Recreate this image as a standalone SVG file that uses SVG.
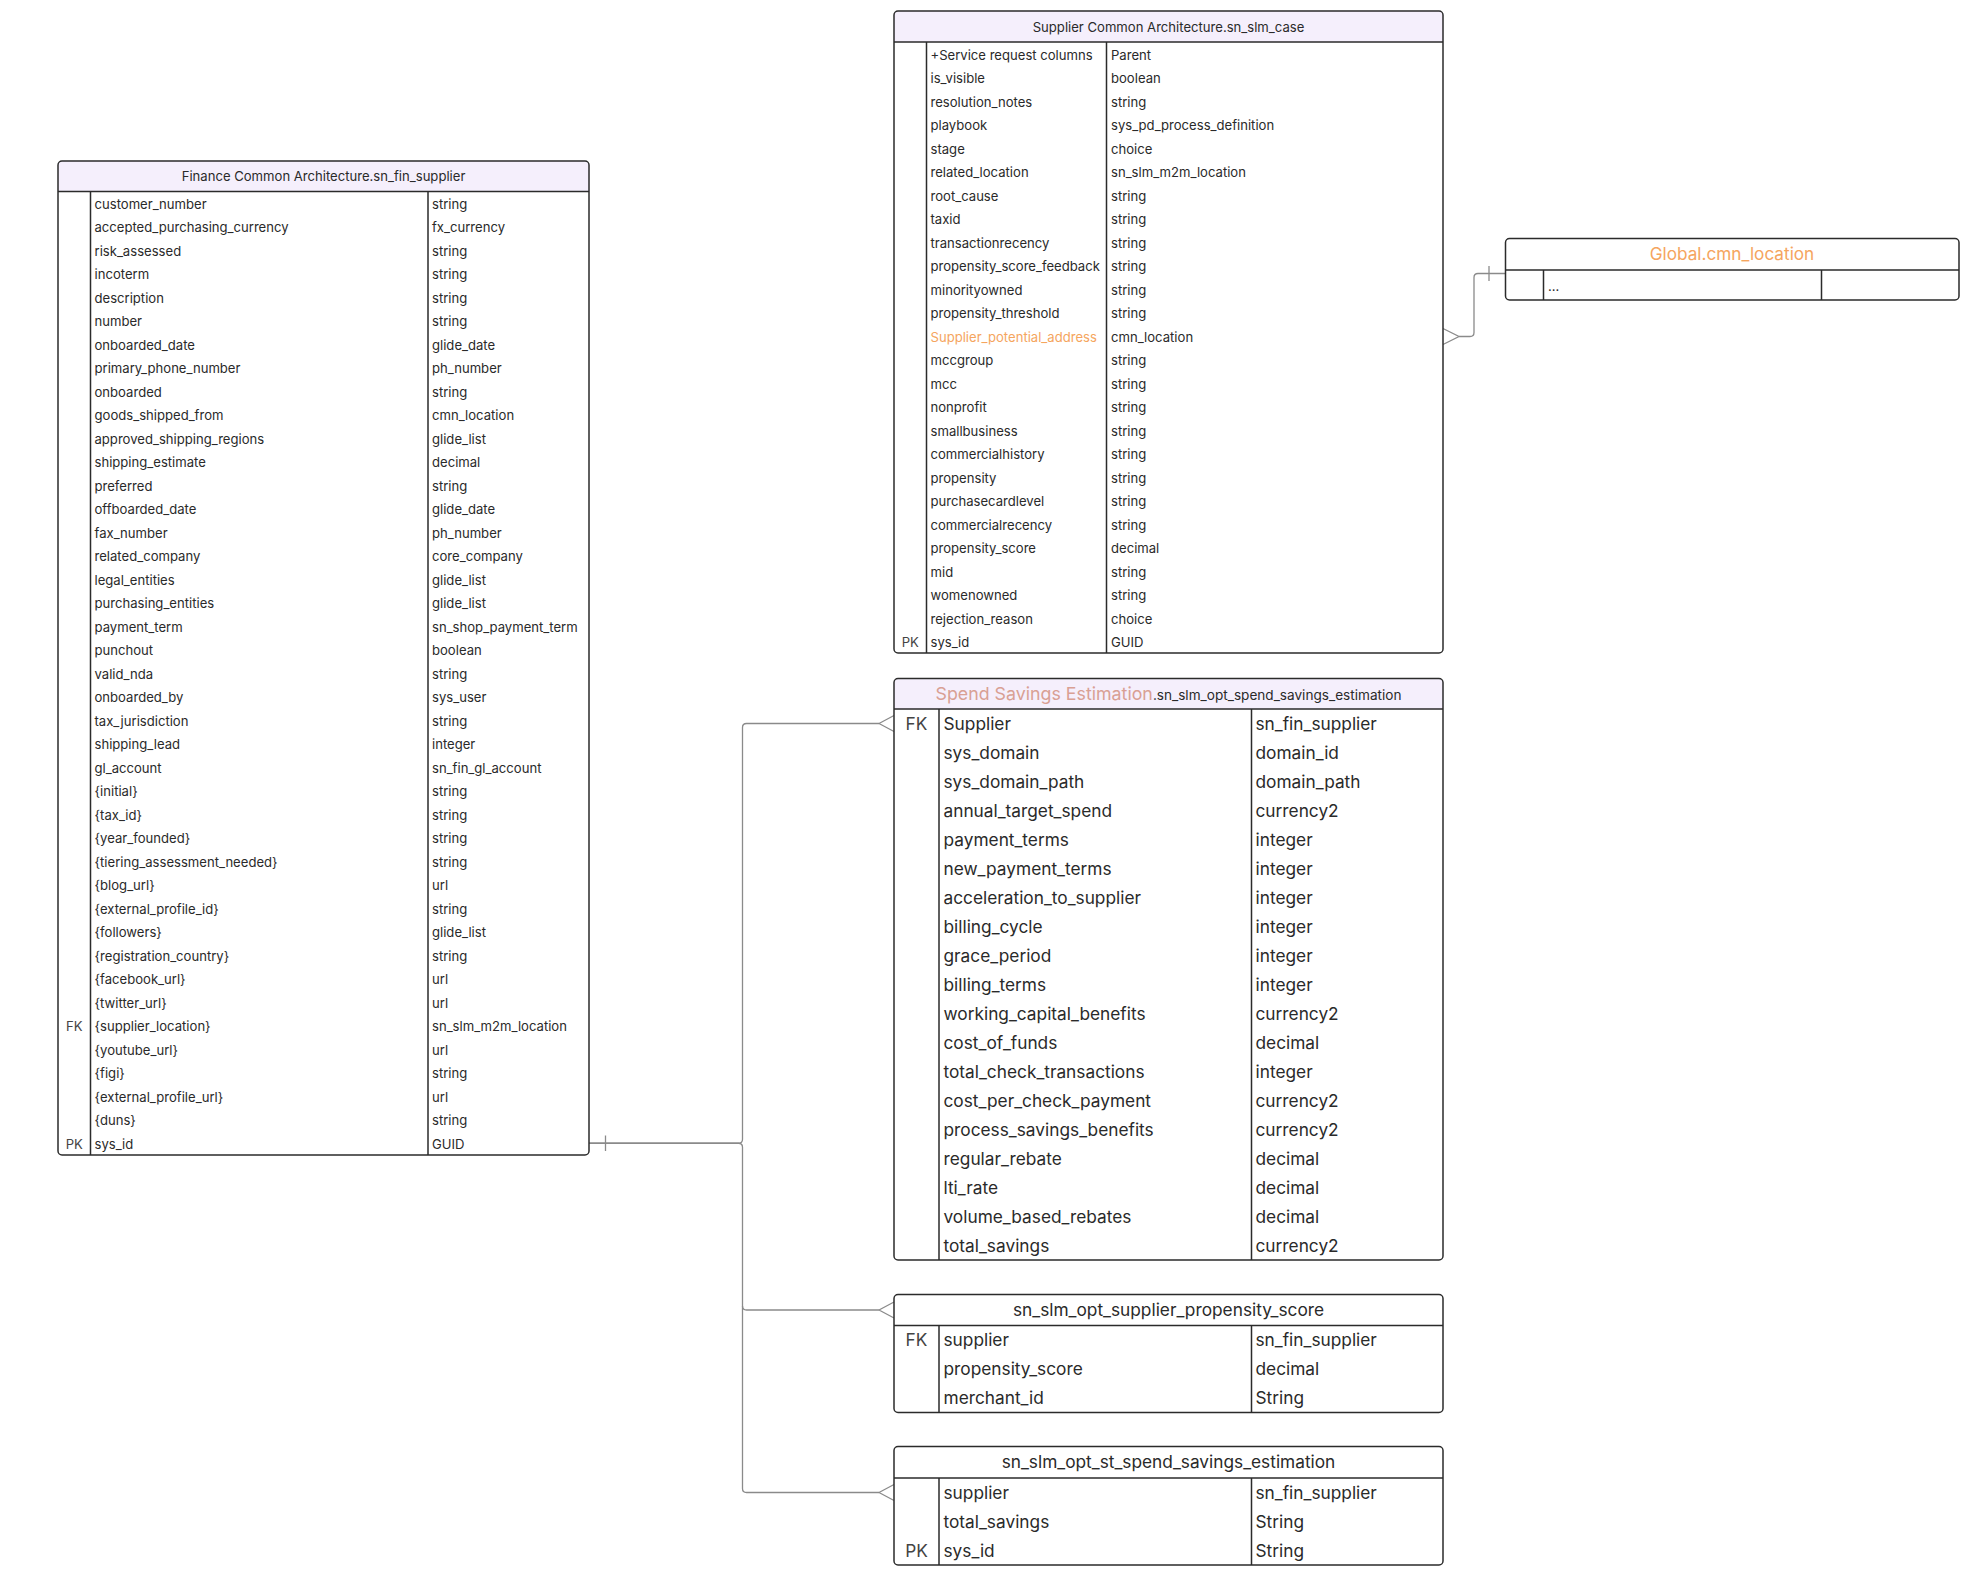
<svg xmlns="http://www.w3.org/2000/svg" width="1974" height="1572" viewBox="0 0 1974 1572">
<style>
  .box{fill:none;stroke:#2b2b2b;stroke-width:1.5}
  .bg{fill:#ffffff}
  .hd{fill:#f5effc}
  .ln{stroke:#2b2b2b;stroke-width:1.5;fill:none}
  .cn{stroke:#8a8a8a;stroke-width:1.3;fill:none}
  text{font-family:Inter,"Noto Sans","Liberation Sans",sans-serif;fill:#2a2a2a}
  .s13{font-size:13.1px}
  .s16{font-size:17.3px}
  .h13{font-size:13.1px;text-anchor:middle}
  .h16{font-size:17.3px;text-anchor:middle}
  .k13{font-size:13.1px;text-anchor:middle;fill:#444444}
  .k16{font-size:17.3px;text-anchor:middle;fill:#444444}
  .org{fill:#f5a55e}
  .pink{fill:#d9a094}
</style>
<rect x="0" y="0" width="1974" height="1572" fill="#ffffff"/>

<g id="connectors">
  <path class="cn" d="M589,1143.25 H738.5 Q742.5,1143.25 742.5,1139.25 V727.5 Q742.5,723.5 746.5,723.5 H879"/>
  <path class="cn" d="M879,723.5 L894,715.5 M879,723.5 L894,731.5"/>
  <path class="cn" d="M589,1143.25 H738.5 Q742.5,1143.25 742.5,1147.25 V1306 Q742.5,1310 746.5,1310 H879"/>
  <path class="cn" d="M879,1310 L894,1302 M879,1310 L894,1318"/>
  <path class="cn" d="M742.5,1306 V1488.5 Q742.5,1492.5 746.5,1492.5 H879"/>
  <path class="cn" d="M879,1492.5 L894,1484.5 M879,1492.5 L894,1500.5"/>
  <path class="cn" d="M605.5,1135.5 V1151"/>
  <path class="cn" d="M1443,328.5 L1459,336.5 L1443,344.5 M1459,336.5 H1470 Q1474,336.5 1474,332.5 V277.5 Q1474,273.5 1478,273.5 H1505.5"/>
  <path class="cn" d="M1489,266 V281"/>
</g>

<g id="sn_fin_supplier">
  <rect class="bg" x="58" y="161" width="531" height="994" rx="4"/>
  <path class="hd" d="M58,191.5 V165 Q58,161 62,161 H585 Q589,161 589,165 V191.5 Z"/>
  <rect class="box" x="58" y="161" width="531" height="994" rx="4"/>
  <path class="ln" d="M58,191.5 H589 M90.5,191.5 V1155 M428,191.5 V1155"/>
  <text class="h13" x="323.5" y="181">Finance Common Architecture.sn_fin_supplier</text>
  <text class="k13" x="74.3" y="1031.25">FK</text>
  <text class="k13" x="74.3" y="1148.75">PK</text>
  <text class="s13" x="94.5" y="208.75"><tspan x="94.5" dy="0">customer_number</tspan><tspan x="94.5" dy="23.5">accepted_purchasing_currency</tspan><tspan x="94.5" dy="23.5">risk_assessed</tspan><tspan x="94.5" dy="23.5">incoterm</tspan><tspan x="94.5" dy="23.5">description</tspan><tspan x="94.5" dy="23.5">number</tspan><tspan x="94.5" dy="23.5">onboarded_date</tspan><tspan x="94.5" dy="23.5">primary_phone_number</tspan><tspan x="94.5" dy="23.5">onboarded</tspan><tspan x="94.5" dy="23.5">goods_shipped_from</tspan><tspan x="94.5" dy="23.5">approved_shipping_regions</tspan><tspan x="94.5" dy="23.5">shipping_estimate</tspan><tspan x="94.5" dy="23.5">preferred</tspan><tspan x="94.5" dy="23.5">offboarded_date</tspan><tspan x="94.5" dy="23.5">fax_number</tspan><tspan x="94.5" dy="23.5">related_company</tspan><tspan x="94.5" dy="23.5">legal_entities</tspan><tspan x="94.5" dy="23.5">purchasing_entities</tspan><tspan x="94.5" dy="23.5">payment_term</tspan><tspan x="94.5" dy="23.5">punchout</tspan><tspan x="94.5" dy="23.5">valid_nda</tspan><tspan x="94.5" dy="23.5">onboarded_by</tspan><tspan x="94.5" dy="23.5">tax_jurisdiction</tspan><tspan x="94.5" dy="23.5">shipping_lead</tspan><tspan x="94.5" dy="23.5">gl_account</tspan><tspan x="94.5" dy="23.5">{initial}</tspan><tspan x="94.5" dy="23.5">{tax_id}</tspan><tspan x="94.5" dy="23.5">{year_founded}</tspan><tspan x="94.5" dy="23.5">{tiering_assessment_needed}</tspan><tspan x="94.5" dy="23.5">{blog_url}</tspan><tspan x="94.5" dy="23.5">{external_profile_id}</tspan><tspan x="94.5" dy="23.5">{followers}</tspan><tspan x="94.5" dy="23.5">{registration_country}</tspan><tspan x="94.5" dy="23.5">{facebook_url}</tspan><tspan x="94.5" dy="23.5">{twitter_url}</tspan><tspan x="94.5" dy="23.5">{supplier_location}</tspan><tspan x="94.5" dy="23.5">{youtube_url}</tspan><tspan x="94.5" dy="23.5">{figi}</tspan><tspan x="94.5" dy="23.5">{external_profile_url}</tspan><tspan x="94.5" dy="23.5">{duns}</tspan><tspan x="94.5" dy="23.5">sys_id</tspan></text>
  <text class="s13" x="432" y="208.75"><tspan x="432" dy="0">string</tspan><tspan x="432" dy="23.5">fx_currency</tspan><tspan x="432" dy="23.5">string</tspan><tspan x="432" dy="23.5">string</tspan><tspan x="432" dy="23.5">string</tspan><tspan x="432" dy="23.5">string</tspan><tspan x="432" dy="23.5">glide_date</tspan><tspan x="432" dy="23.5">ph_number</tspan><tspan x="432" dy="23.5">string</tspan><tspan x="432" dy="23.5">cmn_location</tspan><tspan x="432" dy="23.5">glide_list</tspan><tspan x="432" dy="23.5">decimal</tspan><tspan x="432" dy="23.5">string</tspan><tspan x="432" dy="23.5">glide_date</tspan><tspan x="432" dy="23.5">ph_number</tspan><tspan x="432" dy="23.5">core_company</tspan><tspan x="432" dy="23.5">glide_list</tspan><tspan x="432" dy="23.5">glide_list</tspan><tspan x="432" dy="23.5">sn_shop_payment_term</tspan><tspan x="432" dy="23.5">boolean</tspan><tspan x="432" dy="23.5">string</tspan><tspan x="432" dy="23.5">sys_user</tspan><tspan x="432" dy="23.5">string</tspan><tspan x="432" dy="23.5">integer</tspan><tspan x="432" dy="23.5">sn_fin_gl_account</tspan><tspan x="432" dy="23.5">string</tspan><tspan x="432" dy="23.5">string</tspan><tspan x="432" dy="23.5">string</tspan><tspan x="432" dy="23.5">string</tspan><tspan x="432" dy="23.5">url</tspan><tspan x="432" dy="23.5">string</tspan><tspan x="432" dy="23.5">glide_list</tspan><tspan x="432" dy="23.5">string</tspan><tspan x="432" dy="23.5">url</tspan><tspan x="432" dy="23.5">url</tspan><tspan x="432" dy="23.5">sn_slm_m2m_location</tspan><tspan x="432" dy="23.5">url</tspan><tspan x="432" dy="23.5">string</tspan><tspan x="432" dy="23.5">url</tspan><tspan x="432" dy="23.5">string</tspan><tspan x="432" dy="23.5">GUID</tspan></text>
</g>

<g id="sn_slm_case">
  <rect class="bg" x="894" y="11" width="549" height="642" rx="4"/>
  <path class="hd" d="M894,42 V15 Q894,11 898,11 H1439 Q1443,11 1443,15 V42 Z"/>
  <rect class="box" x="894" y="11" width="549" height="642" rx="4"/>
  <path class="ln" d="M894,42 H1443 M926.5,42 V653 M1106.5,42 V653"/>
  <text class="h13" x="1168.5" y="31.5">Supplier Common Architecture.sn_slm_case</text>
  <text class="k13" x="910.3" y="647">PK</text>
  <text class="s13" x="930.5" y="59.5"><tspan x="930.5" dy="0">+Service request columns</tspan><tspan x="930.5" dy="23.5">is_visible</tspan><tspan x="930.5" dy="23.5">resolution_notes</tspan><tspan x="930.5" dy="23.5">playbook</tspan><tspan x="930.5" dy="23.5">stage</tspan><tspan x="930.5" dy="23.5">related_location</tspan><tspan x="930.5" dy="23.5">root_cause</tspan><tspan x="930.5" dy="23.5">taxid</tspan><tspan x="930.5" dy="23.5">transactionrecency</tspan><tspan x="930.5" dy="23.5">propensity_score_feedback</tspan><tspan x="930.5" dy="23.5">minorityowned</tspan><tspan x="930.5" dy="23.5">propensity_threshold</tspan><tspan x="930.5" dy="23.5" class="org">Supplier_potential_address</tspan><tspan x="930.5" dy="23.5">mccgroup</tspan><tspan x="930.5" dy="23.5">mcc</tspan><tspan x="930.5" dy="23.5">nonprofit</tspan><tspan x="930.5" dy="23.5">smallbusiness</tspan><tspan x="930.5" dy="23.5">commercialhistory</tspan><tspan x="930.5" dy="23.5">propensity</tspan><tspan x="930.5" dy="23.5">purchasecardlevel</tspan><tspan x="930.5" dy="23.5">commercialrecency</tspan><tspan x="930.5" dy="23.5">propensity_score</tspan><tspan x="930.5" dy="23.5">mid</tspan><tspan x="930.5" dy="23.5">womenowned</tspan><tspan x="930.5" dy="23.5">rejection_reason</tspan><tspan x="930.5" dy="23.5">sys_id</tspan></text>
  <text class="s13" x="1111" y="59.5"><tspan x="1111" dy="0">Parent</tspan><tspan x="1111" dy="23.5">boolean</tspan><tspan x="1111" dy="23.5">string</tspan><tspan x="1111" dy="23.5">sys_pd_process_definition</tspan><tspan x="1111" dy="23.5">choice</tspan><tspan x="1111" dy="23.5">sn_slm_m2m_location</tspan><tspan x="1111" dy="23.5">string</tspan><tspan x="1111" dy="23.5">string</tspan><tspan x="1111" dy="23.5">string</tspan><tspan x="1111" dy="23.5">string</tspan><tspan x="1111" dy="23.5">string</tspan><tspan x="1111" dy="23.5">string</tspan><tspan x="1111" dy="23.5">cmn_location</tspan><tspan x="1111" dy="23.5">string</tspan><tspan x="1111" dy="23.5">string</tspan><tspan x="1111" dy="23.5">string</tspan><tspan x="1111" dy="23.5">string</tspan><tspan x="1111" dy="23.5">string</tspan><tspan x="1111" dy="23.5">string</tspan><tspan x="1111" dy="23.5">string</tspan><tspan x="1111" dy="23.5">string</tspan><tspan x="1111" dy="23.5">decimal</tspan><tspan x="1111" dy="23.5">string</tspan><tspan x="1111" dy="23.5">string</tspan><tspan x="1111" dy="23.5">choice</tspan><tspan x="1111" dy="23.5">GUID</tspan></text>
</g>

<g id="cmn_location">
  <rect class="bg" x="1505.5" y="238.5" width="453.5" height="61.5" rx="4"/>
  <rect class="box" x="1505.5" y="238.5" width="453.5" height="61.5" rx="4"/>
  <path class="ln" d="M1505.5,270 H1959 M1543.5,270 V300 M1821.5,270 V300"/>
  <text class="h16 org" x="1732" y="260" style="font-size:17.2px">Global.cmn_location</text>
  <text class="s13" x="1548" y="291">...</text>
</g>

<g id="spend_savings_estimation">
  <rect class="bg" x="894" y="678.5" width="549" height="581.5" rx="4"/>
  <path class="hd" d="M894,709 V682.5 Q894,678.5 898,678.5 H1439 Q1443,678.5 1443,682.5 V709 Z"/>
  <rect class="box" x="894" y="678.5" width="549" height="581.5" rx="4"/>
  <path class="ln" d="M894,709 H1443 M939,709 V1260 M1251.5,709 V1260"/>
  <text x="1168.5" y="700" text-anchor="middle"><tspan class="pink" style="font-size:17.8px">Spend Savings Estimation</tspan><tspan style="font-size:13.6px">.sn_slm_opt_spend_savings_estimation</tspan></text>
  <text class="k16" x="916.5" y="729.8">FK</text>
  <text class="s16" x="943.5" y="729.8"><tspan x="943.5" dy="0">Supplier</tspan><tspan x="943.5" dy="29">sys_domain</tspan><tspan x="943.5" dy="29">sys_domain_path</tspan><tspan x="943.5" dy="29">annual_target_spend</tspan><tspan x="943.5" dy="29">payment_terms</tspan><tspan x="943.5" dy="29">new_payment_terms</tspan><tspan x="943.5" dy="29">acceleration_to_supplier</tspan><tspan x="943.5" dy="29">billing_cycle</tspan><tspan x="943.5" dy="29">grace_period</tspan><tspan x="943.5" dy="29">billing_terms</tspan><tspan x="943.5" dy="29">working_capital_benefits</tspan><tspan x="943.5" dy="29">cost_of_funds</tspan><tspan x="943.5" dy="29">total_check_transactions</tspan><tspan x="943.5" dy="29">cost_per_check_payment</tspan><tspan x="943.5" dy="29">process_savings_benefits</tspan><tspan x="943.5" dy="29">regular_rebate</tspan><tspan x="943.5" dy="29">lti_rate</tspan><tspan x="943.5" dy="29">volume_based_rebates</tspan><tspan x="943.5" dy="29">total_savings</tspan></text>
  <text class="s16" x="1255.5" y="729.8"><tspan x="1255.5" dy="0">sn_fin_supplier</tspan><tspan x="1255.5" dy="29">domain_id</tspan><tspan x="1255.5" dy="29">domain_path</tspan><tspan x="1255.5" dy="29">currency2</tspan><tspan x="1255.5" dy="29">integer</tspan><tspan x="1255.5" dy="29">integer</tspan><tspan x="1255.5" dy="29">integer</tspan><tspan x="1255.5" dy="29">integer</tspan><tspan x="1255.5" dy="29">integer</tspan><tspan x="1255.5" dy="29">integer</tspan><tspan x="1255.5" dy="29">currency2</tspan><tspan x="1255.5" dy="29">decimal</tspan><tspan x="1255.5" dy="29">integer</tspan><tspan x="1255.5" dy="29">currency2</tspan><tspan x="1255.5" dy="29">currency2</tspan><tspan x="1255.5" dy="29">decimal</tspan><tspan x="1255.5" dy="29">decimal</tspan><tspan x="1255.5" dy="29">decimal</tspan><tspan x="1255.5" dy="29">currency2</tspan></text>
</g>

<g id="supplier_propensity_score">
  <rect class="bg" x="894" y="1294.5" width="549" height="118" rx="4"/>
  <rect class="box" x="894" y="1294.5" width="549" height="118" rx="4"/>
  <path class="ln" d="M894,1325.5 H1443 M939,1325.5 V1412.5 M1251.5,1325.5 V1412.5"/>
  <text class="h16" x="1168.5" y="1316.2">sn_slm_opt_supplier_propensity_score</text>
  <text class="k16" x="916.5" y="1346.1">FK</text>
  <text class="s16" x="943.5" y="1346.1"><tspan x="943.5" dy="0">supplier</tspan><tspan x="943.5" dy="29">propensity_score</tspan><tspan x="943.5" dy="29">merchant_id</tspan></text>
  <text class="s16" x="1255.5" y="1346.1"><tspan x="1255.5" dy="0">sn_fin_supplier</tspan><tspan x="1255.5" dy="29">decimal</tspan><tspan x="1255.5" dy="29">String</tspan></text>
</g>

<g id="st_spend_savings_estimation">
  <rect class="bg" x="894" y="1446.5" width="549" height="118.5" rx="4"/>
  <rect class="box" x="894" y="1446.5" width="549" height="118.5" rx="4"/>
  <path class="ln" d="M894,1478 H1443 M939,1478 V1565 M1251.5,1478 V1565"/>
  <text class="h16" x="1168.5" y="1468.3">sn_slm_opt_st_spend_savings_estimation</text>
  <text class="k16" x="916.5" y="1556.6">PK</text>
  <text class="s16" x="943.5" y="1498.6"><tspan x="943.5" dy="0">supplier</tspan><tspan x="943.5" dy="29">total_savings</tspan><tspan x="943.5" dy="29">sys_id</tspan></text>
  <text class="s16" x="1255.5" y="1498.6"><tspan x="1255.5" dy="0">sn_fin_supplier</tspan><tspan x="1255.5" dy="29">String</tspan><tspan x="1255.5" dy="29">String</tspan></text>
</g>
</svg>
